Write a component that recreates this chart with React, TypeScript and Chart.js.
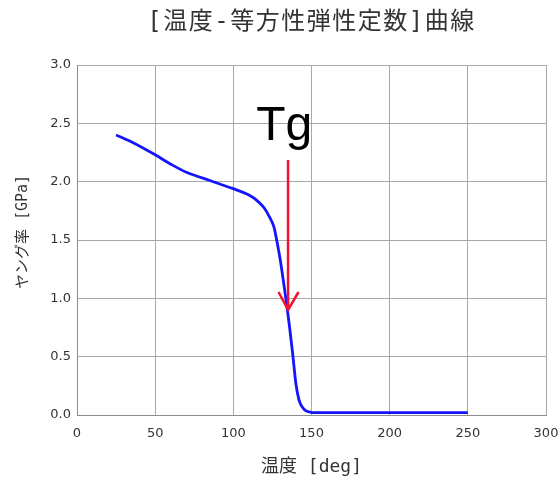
import React, { useEffect, useRef } from "react";
import { Chart, registerables } from "chart.js";

Chart.register(...registerables);

// Temperature [deg] and Young's modulus [GPa]
const temperatures = [25, 35, 50, 60, 70, 85, 100, 105, 110, 115, 120, 123, 126, 128, 130, 132, 134, 136, 138, 140, 142, 144, 146, 149, 152, 160, 200, 250];
const modulus = [2.40, 2.34, 2.23, 2.15, 2.08, 2.01, 1.94, 1.915, 1.885, 1.84, 1.77, 1.70, 1.61, 1.48, 1.33, 1.15, 0.96, 0.75, 0.52, 0.27, 0.13, 0.07, 0.04, 0.025, 0.02, 0.02, 0.02, 0.02];

const xTicks = [0, 50, 100, 150, 200, 250, 300];
const yTicks = [0, 0.5, 1.0, 1.5, 2.0, 2.5, 3.0];

const TITLE = "[温度-等方性弾性定数]曲線";
const X_TITLE = "温度 [deg]";
const Y_TITLE = "ヤング率 [GPa]";

// Glass transition marker
const TG_LABEL = "Tg";
const TG_LABEL_POS = { x: 132.5, y: 2.36 };
const TG_ARROW_X = 135;
const TG_ARROW_TOP = 2.185;
const TG_ARROW_TIP = 0.9;

const TEXT_FONT = '"DejaVu Sans Mono", "Noto Sans CJK JP"';

const overlay = {
  id: "overlay",
  afterDraw(chart: any) {
    const { ctx, chartArea, scales } = chart;
    const x = scales.x;
    const y = scales.y;
    ctx.save();
    // chart title, centred over the plot area
    ctx.font = `24px ${TEXT_FONT}`;
    (ctx as any).letterSpacing = "1.5px";
    ctx.fillStyle = "#333333";
    ctx.textAlign = "center";
    ctx.textBaseline = "middle";
    ctx.fillText(TITLE, (chartArea.left + chartArea.right) / 2, 23);
    (ctx as any).letterSpacing = "0px";

    // y axis title
    ctx.save();
    ctx.translate(23, 232);
    ctx.rotate(-Math.PI / 2);
    ctx.font = `15px ${TEXT_FONT}`;
    ctx.fillText(Y_TITLE, 0, 0);
    ctx.restore();

    // Tg label
    ctx.font = '48px "Liberation Sans"';
    ctx.fillStyle = "#000000";
    ctx.textBaseline = "alphabetic";
    ctx.fillText(TG_LABEL, x.getPixelForValue(TG_LABEL_POS.x), y.getPixelForValue(TG_LABEL_POS.y));

    // arrow
    const ax = x.getPixelForValue(TG_ARROW_X);
    const top = y.getPixelForValue(TG_ARROW_TOP);
    const tip = y.getPixelForValue(TG_ARROW_TIP);
    ctx.strokeStyle = "#f5102f";
    ctx.lineWidth = 2.5;
    ctx.beginPath();
    ctx.moveTo(ax, top);
    ctx.lineTo(ax, tip);
    ctx.moveTo(ax - 9.5, tip - 18);
    ctx.lineTo(ax, tip);
    ctx.lineTo(ax + 10.5, tip - 18);
    ctx.stroke();
    ctx.restore();
  },
};

export default function App() {
  const canvasRef = useRef<HTMLCanvasElement | null>(null);

  useEffect(() => {
    if (!canvasRef.current) return;
    const chart = new Chart(canvasRef.current, {
      type: "line",
      data: {
        datasets: [
          {
            data: temperatures.map((t, i) => ({ x: t, y: modulus[i] })),
            borderColor: "#1414ff",
            borderWidth: 2.8,
            pointRadius: 0,
            cubicInterpolationMode: "monotone",
            fill: false,
          },
        ],
      },
      options: {
        animation: false,
        responsive: false,
        layout: { padding: { top: 65, right: 1, left: 0, bottom: 0 } },
        plugins: { legend: { display: false }, tooltip: { enabled: false }, title: { display: false } },
        scales: {
          x: {
            type: "linear",
            min: 0,
            max: 300,
            afterBuildTicks: (s: any) => {
              s.ticks = xTicks.map((v) => ({ value: v }));
            },
            afterFit: (s: any) => {
              s.height = 63;
              s.paddingRight = 12;
              s.paddingLeft = 0;
            },
            grid: { color: "#a8a8a8", drawTicks: false },
            border: { color: "#8c8c8c" },
            ticks: {
              padding: 11,
              color: "#333333",
              font: { family: "DejaVu Sans", size: 13 },
              callback: (v: any) => String(v),
            },
            title: {
              display: true,
              text: X_TITLE,
              color: "#333333",
              font: { family: TEXT_FONT, size: 18 },
              padding: { top: 6, bottom: 0 },
            },
          },
          y: {
            type: "linear",
            min: 0,
            max: 3,
            afterBuildTicks: (s: any) => {
              s.ticks = yTicks.map((v) => ({ value: v }));
            },
            afterFit: (s: any) => {
              s.width = 77;
            },
            grid: { color: "#a8a8a8", drawTicks: false },
            border: { color: "#8c8c8c" },
            ticks: {
              padding: 6,
              color: "#333333",
              font: { family: "DejaVu Sans", size: 13 },
              callback: (v: any) => Number(v).toFixed(1),
            },
            title: { display: false },
          },
        },
      },
      plugins: [overlay],
    } as any);
    return () => chart.destroy();
  }, []);

  return (
    <div style={{ position: "absolute", left: 0, top: 0, width: 558, height: 478 }}>
      <canvas ref={canvasRef} width={558} height={478} style={{ display: "block" }} />
    </div>
  );
}
